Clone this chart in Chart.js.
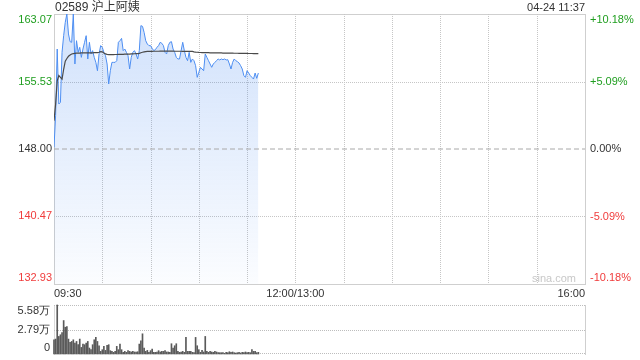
<!DOCTYPE html>
<html lang="zh">
<head>
    <meta charset="UTF-8">
    <title>02589 沪上阿姨</title>
    <script src="https://cdn.jsdelivr.net/npm/chart.js"></script>
    <style>
        body {
            margin: 0;
            padding: 0;
            background: #fff;
            font-family: Arial, 'Liberation Sans', 'Noto Sans CJK SC', sans-serif;
        }

        #wrap {
            position: relative;
            width: 640px;
            height: 360px;
            overflow: hidden;
        }

        #priceChart, #volChart {
            position: absolute;
            left: 0;
        }

        #priceChart { top: 0; }
        #volChart { top: 300px; }

        .txt {
            position: absolute;
            color: #333;
            white-space: nowrap;
        }

        #title {
            left: 55px;
            top: 0;
            font-size: 12px;
            line-height: 14px;
        }

        #stamp {
            right: 55px;
            top: 1px;
            font-size: 11px;
            line-height: 13px;
        }

        #mark {
            left: 532px;
            top: 272px;
            font-size: 11px;
            line-height: 13px;
            color: #c8c8c8;
        }
    </style>
</head>
<body>
<div id="wrap">
    <canvas id="priceChart" width="640" height="300"></canvas>
    <canvas id="volChart" width="640" height="60"></canvas>
    <div class="txt" id="title">02589 沪上阿姨</div>
    <div class="txt" id="stamp">04-24 11:37</div>
    <div class="txt" id="mark">sina.com</div>
</div>

<script>
    // 分时数据 (每分钟一个点, 09:30 起)
    const prevClose = 148.00;

    const prices = [
        148.19, 151.72, 159.16, 153.02, 153.21, 158.79, 160.65, 162.14, 163.07, 160.84,
        159.98, 159.91, 163.07, 157.49, 160.09, 158.79, 159.35, 158.23, 159.16, 159.91,
        160.65, 158.05, 159.91, 158.61, 158.98, 158.23, 157.67, 156.74, 158.61, 159.54,
        159.35, 158.79, 158.42, 157.49, 155.26, 156.74, 157.67, 157.67, 157.67, 157.86,
        159.91, 160.09, 160.35, 158.98, 159.16, 158.79, 158.42, 156.93, 158.23, 158.79,
        158.98, 158.61, 158.05, 158.98, 161.77, 161.69, 161.02, 160.09, 159.72, 159.54,
        159.54, 159.24, 158.98, 159.09, 159.35, 159.54, 159.91, 159.80, 159.54, 158.79,
        158.61, 159.54, 159.91, 159.98, 159.16, 158.79, 158.23, 158.05, 158.05, 158.98,
        159.91, 158.98, 158.23, 157.86, 158.79, 157.67, 158.05, 157.86, 157.30, 156.00,
        156.56, 157.12, 156.93, 156.74, 158.61, 158.23, 157.86, 157.49, 157.12, 157.49,
        157.67, 157.86, 158.05, 157.94, 158.05, 157.97, 158.05, 157.94, 157.97, 157.49,
        156.93, 157.67, 158.05, 157.86, 157.75, 157.60, 157.30, 156.93, 156.19, 156.00,
        156.74, 156.48, 156.19, 156.00, 155.81, 156.48, 155.89, 156.48
    ];

    const avgPrices = [
        151.16, 153.00, 155.60, 156.20, 156.00, 155.80, 156.90, 157.80, 158.10, 158.35,
        158.50, 158.60, 158.65, 158.68, 158.70, 158.70, 158.71, 158.72, 158.72, 158.72,
        158.73, 158.73, 158.73, 158.74, 158.74, 158.75, 158.75, 158.76, 158.80, 158.87,
        158.85, 158.72, 158.62, 158.56, 158.53, 158.53, 158.54, 158.54, 158.55, 158.55,
        158.56, 158.56, 158.57, 158.57, 158.58, 158.58, 158.59, 158.60, 158.61, 158.62,
        158.63, 158.64, 158.65, 158.68, 158.75, 158.80, 158.85, 158.88, 158.89, 158.90,
        158.90, 158.90, 158.91, 158.91, 158.91, 158.91, 158.92, 158.92, 158.92, 158.92,
        158.92, 158.92, 158.92, 158.92, 158.92, 158.91, 158.91, 158.91, 158.91, 158.91,
        158.90, 158.90, 158.90, 158.90, 158.89, 158.89, 158.89, 158.85, 158.82, 158.80,
        158.78, 158.77, 158.76, 158.76, 158.75, 158.75, 158.75, 158.74, 158.74, 158.74,
        158.73, 158.73, 158.72, 158.72, 158.72, 158.71, 158.71, 158.71, 158.70, 158.70,
        158.70, 158.70, 158.69, 158.69, 158.69, 158.68, 158.68, 158.68, 158.67, 158.67,
        158.67, 158.66, 158.66, 158.66, 158.65, 158.65, 158.65, 158.64
    ];

    // 成交量 (万股)
    const volumes = [
        1.62, 1.70, 5.58, 2.00, 2.19, 2.45, 3.81, 3.05, 3.13, 1.70,
        1.32, 1.43, 1.62, 1.24, 1.43, 1.06, 1.70, 0.75, 1.13, 1.06,
        1.24, 1.43, 0.68, 0.49, 1.06, 1.62, 1.89, 1.43, 0.94, 0.30,
        0.49, 0.87, 0.41, 0.98, 1.06, 0.38, 0.30, 0.19, 0.30, 0.87,
        0.49, 1.13, 0.49, 0.19, 0.30, 0.19, 0.38, 0.30, 0.23, 0.30,
        0.23, 0.23, 0.26, 1.13, 1.51, 2.30, 0.68, 0.30, 0.41, 0.19,
        0.38, 0.57, 0.19, 0.19, 0.23, 0.38, 0.23, 0.30, 0.30, 0.38,
        0.23, 0.23, 0.19, 1.17, 0.68, 0.94, 1.17, 0.30, 0.19, 0.23,
        0.30, 0.19, 1.89, 0.30, 0.30, 0.30, 0.19, 0.15, 1.89, 0.94,
        0.49, 0.19, 0.41, 0.23, 2.00, 0.30, 0.19, 0.30, 0.23, 0.19,
        0.30, 0.23, 0.15, 0.15, 0.15, 0.15, 0.08, 0.19, 0.15, 0.26,
        0.19, 0.23, 0.15, 0.11, 0.15, 0.19, 0.11, 0.19, 0.15, 0.23,
        0.15, 0.19, 0.15, 0.49, 0.30, 0.30, 0.15, 0.19
    ];

    // 坐标轴刻度
    const priceTicks = [163.07, 155.53, 148.00, 140.47, 132.93];
    const pctTicks = [10.18, 5.09, 0.00, -5.09, -10.18];
    const volTicks = [5.58, 2.79, 0];
    const timeGrid = [0, 30, 60, 90, 120, 150, 180, 210, 240, 270, 300, 330];
    const timeLabelPos = [0, 150, 330];
    const timeLabels = ['09:30', '12:00/13:00', '16:00'];

    const FONT = "Arial, 'Liberation Sans', sans-serif";
    const GREEN = '#1f9e1f';
    const RED = '#f03c3c';
    const DARK = '#333';

    const toXY = (arr) => arr.map((v, i) => ({ x: i, y: v }));

    function tickColor(v, base) {
        if (v > base + 1e-9) return GREEN;
        if (v < base - 1e-9) return RED;
        return DARK;
    }

    // 左右两侧的刻度文字, 顶部/底部的标签往里收
    function drawSideText(ctx, area, y, text, color, x, align) {
        let yy = y;
        if (yy - area.top < 6) yy = area.top + 6;
        if (area.bottom - yy < 6) yy = area.bottom - 6;
        ctx.fillStyle = color;
        ctx.textAlign = align;
        ctx.textBaseline = 'middle';
        ctx.fillText(text, x, yy);
    }

    // 点状网格线 (1px 点, 1px 间隔)
    function dottedLine(ctx, x1, y1, x2, y2, color) {
        ctx.save();
        ctx.strokeStyle = color;
        ctx.lineWidth = 1;
        ctx.setLineDash([1, 1]);
        ctx.beginPath();
        ctx.moveTo(x1, y1);
        ctx.lineTo(x2, y2);
        ctx.stroke();
        ctx.restore();
    }

    const priceGridPlugin = {
        id: 'priceGrid',
        beforeDatasetsDraw(chart) {
            const { ctx, chartArea: a, scales } = chart;
            timeGrid.slice(1, -1).forEach((t) => {
                const x = Math.round(scales.x.getPixelForValue(t)) + 0.5;
                dottedLine(ctx, x, a.top, x, a.bottom, '#c6c6c6');
            });
            priceTicks.slice(1, -1).forEach((v) => {
                if (v === prevClose) return;
                const y = Math.round(scales.y.getPixelForValue(v)) + 0.5;
                dottedLine(ctx, a.left, y, a.right, y, '#c6c6c6');
            });
        }
    };

    const priceLabelsPlugin = {
        id: 'priceLabels',
        afterDraw(chart) {
            const { ctx, chartArea, scales } = chart;
            ctx.save();
            ctx.font = '11px ' + FONT;
            priceTicks.forEach((v) => {
                drawSideText(ctx, chartArea, scales.y.getPixelForValue(v), v.toFixed(2),
                    tickColor(v, prevClose), chartArea.left - 2, 'right');
            });
            pctTicks.forEach((p) => {
                const txt = (p > 0 ? '+' : '') + p.toFixed(2) + '%';
                drawSideText(ctx, chartArea, scales.y1.getPixelForValue(p), txt,
                    tickColor(p, 0), chartArea.right + 5, 'left');
            });
            ctx.restore();
        }
    };

    const volGridPlugin = {
        id: 'volGrid',
        beforeDatasetsDraw(chart) {
            const { ctx, chartArea: a, scales } = chart;
            volTicks.forEach((v) => {
                let y = Math.round(scales.y.getPixelForValue(v)) + 0.5;
                if (y > a.bottom) y -= 1;
                dottedLine(ctx, a.left, y, a.right, y, '#bdbdbd');
            });
        }
    };

    const volLabelsPlugin = {
        id: 'volLabels',
        afterDraw(chart) {
            const { ctx, chartArea, scales } = chart;
            ctx.save();
            ctx.font = '11px ' + FONT;
            volTicks.forEach((v) => {
                const txt = v === 0 ? '0' : v.toFixed(2) + '万';
                drawSideText(ctx, chartArea, scales.y.getPixelForValue(v), txt,
                    DARK, chartArea.left - 4, 'right');
            });
            ctx.restore();
        }
    };

    function fillGradient(context) {
        const { chart } = context;
        const area = chart.chartArea;
        if (!area) return 'rgba(60,130,240,0.12)';
        const g = chart.ctx.createLinearGradient(0, area.top, 0, area.bottom);
        g.addColorStop(0, 'rgba(60,130,240,0.24)');
        g.addColorStop(1, 'rgba(60,130,240,0.02)');
        return g;
    }

    Chart.defaults.font.family = FONT;
    Chart.defaults.font.size = 11;
    Chart.defaults.color = DARK;

    new Chart(document.getElementById('priceChart'), {
        type: 'line',
        data: {
            datasets: [
                {
                    label: '昨收',
                    data: [{ x: 0, y: prevClose }, { x: 330, y: prevClose }],
                    borderColor: '#a8a8a8',
                    borderWidth: 1,
                    borderDash: [5, 3],
                    pointRadius: 0,
                    fill: false,
                    order: 1
                },
                {
                    label: '均价',
                    data: toXY(avgPrices),
                    borderColor: '#4a4a4a',
                    borderWidth: 1.2,
                    pointRadius: 0,
                    tension: 0,
                    fill: false,
                    order: 2
                },
                {
                    label: '价格',
                    data: toXY(prices),
                    borderColor: '#4d8ef2',
                    borderWidth: 1,
                    pointRadius: 0,
                    tension: 0,
                    fill: 'start',
                    backgroundColor: fillGradient,
                    order: 3
                }
            ]
        },
        options: {
            responsive: false,
            animation: false,
            events: [],
            layout: { padding: { top: 14, left: 0, right: 0, bottom: 0 } },
            plugins: {
                legend: { display: false },
                tooltip: { enabled: false }
            },
            scales: {
                x: {
                    type: 'linear',
                    min: 0,
                    max: 330,
                    afterBuildTicks: (scale) => { scale.ticks = timeGrid.map(v => ({ value: v })); },
                    afterFit: (scale) => { scale.height = 16; },
                    grid: { display: false, drawTicks: false },
                    border: { display: true, color: '#cfcfcf' },
                    ticks: {
                        autoSkip: false,
                        maxRotation: 0,
                        align: 'inner',
                        padding: 3,
                        color: DARK,
                        callback: (v) => {
                            const k = timeLabelPos.indexOf(v);
                            return k >= 0 ? timeLabels[k] : '';
                        }
                    }
                },
                xTop: {
                    type: 'linear',
                    position: 'top',
                    min: 0,
                    max: 330,
                    grid: { display: false, drawTicks: false },
                    border: { display: true, color: '#cfcfcf' },
                    ticks: { display: false }
                },
                y: {
                    position: 'left',
                    min: priceTicks[priceTicks.length - 1],
                    max: priceTicks[0],
                    afterFit: (scale) => { scale.width = 54; },
                    grid: { display: false, drawTicks: false },
                    border: { display: true, color: '#cfcfcf' },
                    ticks: { display: false }
                },
                y1: {
                    position: 'right',
                    min: pctTicks[pctTicks.length - 1],
                    max: pctTicks[0],
                    afterFit: (scale) => { scale.width = 55; },
                    grid: { display: false, drawTicks: false },
                    border: { display: true, color: '#cfcfcf' },
                    ticks: { display: false }
                }
            }
        },
        plugins: [priceGridPlugin, priceLabelsPlugin]
    });

    new Chart(document.getElementById('volChart'), {
        type: 'bar',
        data: {
            datasets: [{
                label: '成交量',
                data: toXY(volumes),
                backgroundColor: '#5a5a5a',
                barThickness: 1,
                grouped: false,
                clip: false
            }]
        },
        options: {
            responsive: false,
            animation: false,
            events: [],
            layout: { padding: { top: 5, left: 0, right: 0, bottom: 6 } },
            plugins: {
                legend: { display: false },
                tooltip: { enabled: false }
            },
            scales: {
                x: {
                    type: 'linear',
                    min: 0,
                    max: 330,
                    offset: false,
                    display: false
                },
                y: {
                    position: 'left',
                    min: 0,
                    max: volTicks[0],
                    afterFit: (scale) => { scale.width = 54; },
                    grid: { display: false, drawTicks: false },
                    border: { display: true, color: '#dadada' },
                    ticks: { display: false }
                },
                y1: {
                    position: 'right',
                    min: 0,
                    max: volTicks[0],
                    afterFit: (scale) => { scale.width = 55; },
                    grid: { display: false, drawTicks: false },
                    border: { display: true, color: '#cfcfcf' },
                    ticks: { display: false }
                }
            }
        },
        plugins: [volGridPlugin, volLabelsPlugin]
    });
</script>
</body>
</html>
